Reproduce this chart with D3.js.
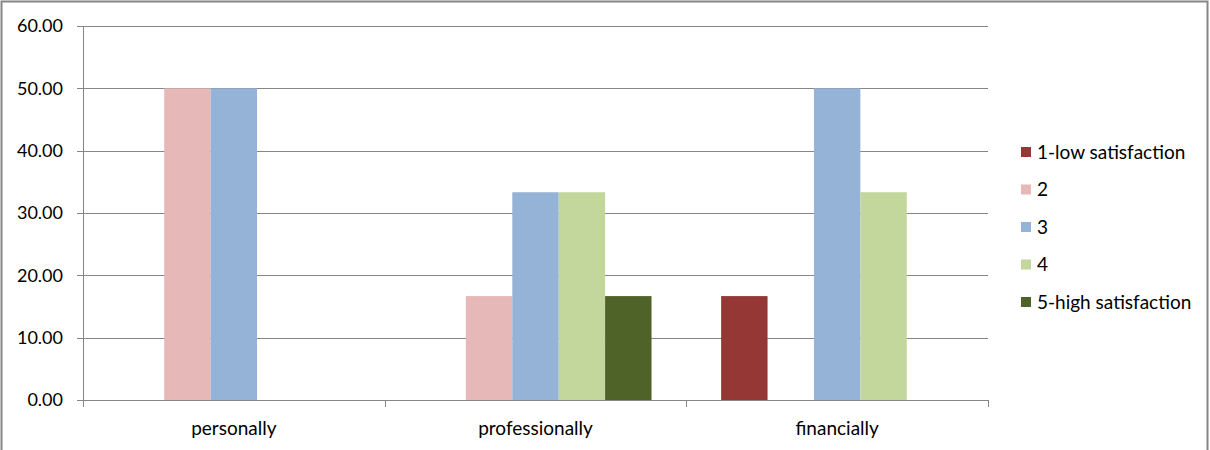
<!DOCTYPE html>
<html>
<head>
<meta charset="utf-8">
<script src="https://cdn.jsdelivr.net/npm/d3@7"></script>
<style>
  body { margin: 0; background: #fff; }
  svg text { font-family: Lato, "Open Sans", sans-serif; fill: #000; }
</style>
</head>
<body>
<svg id="chart" width="1210" height="450"></svg>
<script>
const categories = ["personally", "professionally", "financially"];
const series = ["1-low satisfaction", "2", "3", "4", "5-high satisfaction"];
const colors = ["#953735", "#e6b9b8", "#95b3d7", "#c3d69b", "#4f6228"];
// values[series][category]
const values = [
    [0, 0, 16.67],
    [50, 16.67, 0],
    [50, 33.33, 50],
    [0, 33.33, 33.33],
    [0, 16.67, 0]
];
const y_ticks = [0, 10, 20, 30, 40, 50, 60];

(function () {
const svg = d3.select("#chart");
const pl = 83, pr = 988, pt = 26, pb = 400;

// frame
svg.append("rect")
    .attr("x", 1.5).attr("y", 1.5)
    .attr("width", 1206).attr("height", 460)
    .attr("fill", "none").attr("stroke", "#868686").attr("stroke-width", 2);

const x = d3.scaleBand().domain(categories).range([pl, pr]);
// gap width 150% => 0.75 bar width on each side of the group
const gap = x.bandwidth() * 1.5 / 6.5 / 2;
const x_inner = d3.scaleBand().domain(series).range([gap, x.bandwidth() - gap]);

const y = d3.scaleLinear().domain([0, 60]).range([pb, pt]);

// gridlines
svg.append("g").selectAll("line").data(y_ticks).enter().append("line")
    .attr("x1", pl - 6).attr("x2", pr)
    .attr("y1", d => Math.round(y(d)) + 0.5).attr("y2", d => Math.round(y(d)) + 0.5)
    .attr("stroke", "#868686").attr("stroke-width", 1);

// y labels
svg.append("g").selectAll("text").data(y_ticks).enter().append("text")
    .attr("x", 63).attr("y", d => y(d))
    .attr("dy", "0.35em")
    .attr("text-anchor", "end")
    .style("font-size", "18px")
    .text(d => d.toFixed(2));

// bars
const bars = [];
series.forEach((s, i) => categories.forEach((c, j) => {
    if (values[i][j] > 0) bars.push({s, c, v: values[i][j], color: colors[i]});
}));
svg.append("g").selectAll("rect").data(bars).enter().append("rect")
    .attr("x", d => x(d.c) + x_inner(d.s))
    .attr("width", x_inner.bandwidth())
    .attr("y", d => y(d.v))
    .attr("height", d => y(0) - y(d.v))
    .attr("fill", d => d.color);

// y axis line
svg.append("line")
    .attr("x1", pl + 0.5).attr("x2", pl + 0.5)
    .attr("y1", pt).attr("y2", pb)
    .attr("stroke", "#868686");

// x axis
svg.append("line")
    .attr("x1", pl).attr("x2", pr)
    .attr("y1", pb + 0.5).attr("y2", pb + 0.5)
    .attr("stroke", "#868686");
const x_ticks = categories.map(c => x(c)).concat([pr]);
svg.append("g").selectAll("line").data(x_ticks).enter().append("line")
    .attr("x1", d => Math.round(d) + 0.5).attr("x2", d => Math.round(d) + 0.5)
    .attr("y1", pb).attr("y2", pb + 7)
    .attr("stroke", "#868686");

svg.append("g").selectAll("text").data(categories).enter().append("text")
    .attr("x", d => x(d) + x.bandwidth() / 2)
    .attr("y", 428)
    .attr("dy", "0.35em")
    .attr("text-anchor", "middle")
    .style("font-size", "19px")
    .text(d => d);

// legend
const legend = svg.append("g").selectAll("g").data(series).enter().append("g")
    .attr("transform", (d, i) => `translate(1021, ${152 + i * 37.5})`);
legend.append("rect")
    .attr("x", 0).attr("y", -5).attr("width", 10).attr("height", 10)
    .attr("fill", (d, i) => colors[i]);
legend.append("text")
    .attr("x", 16).attr("y", 0).attr("dy", "0.35em")
    .style("font-size", "19px")
    .text(d => d);
})();
</script>
</body>
</html>
